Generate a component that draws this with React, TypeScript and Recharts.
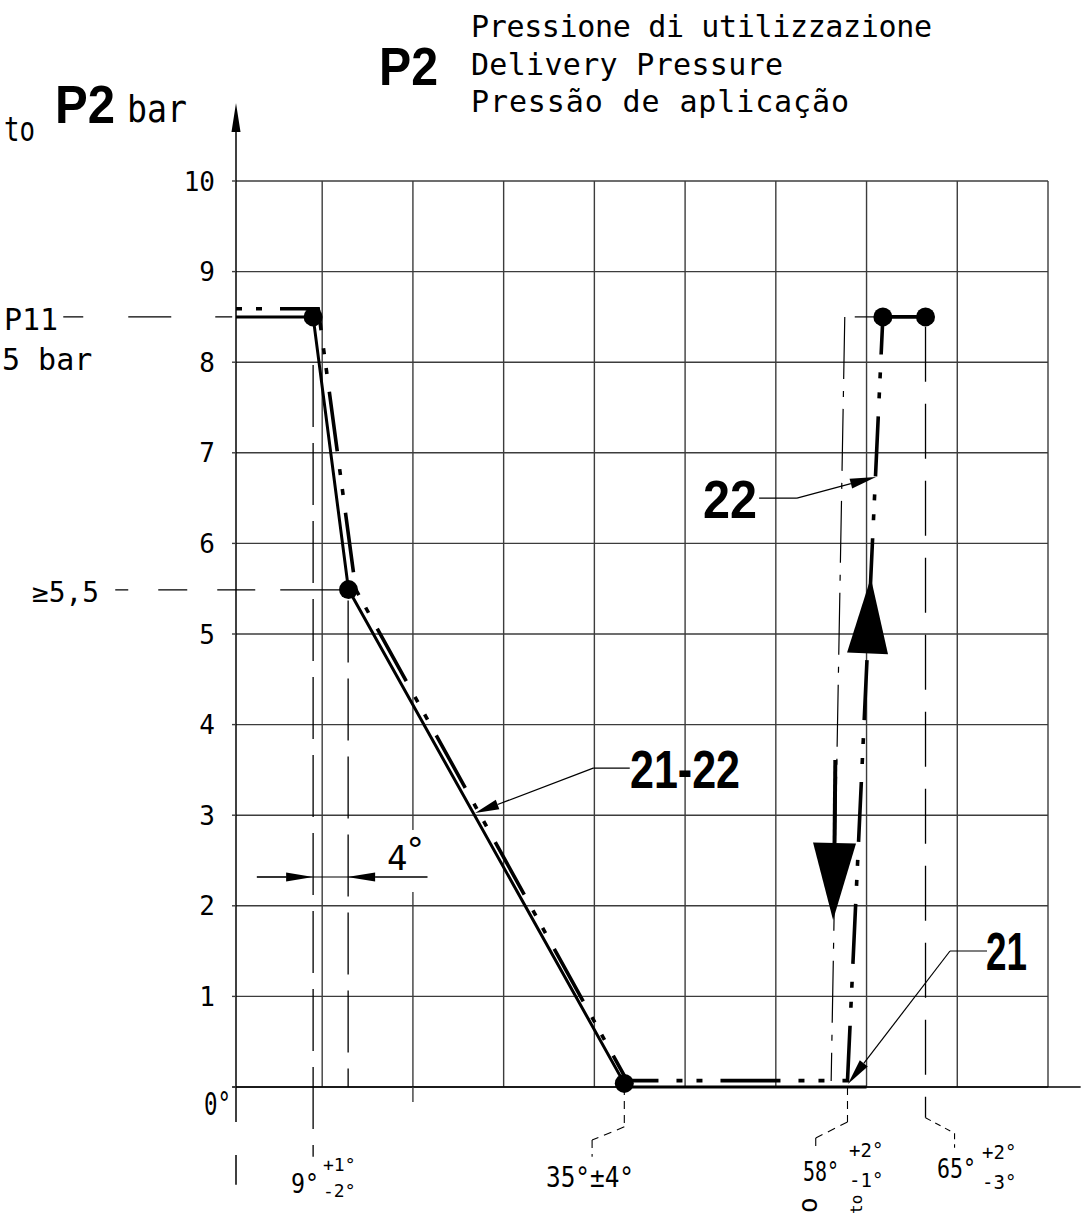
import React from 'react';
import { LineChart, Line, XAxis, YAxis, CartesianGrid, ReferenceLine } from 'recharts';

const W = 1081;
const H = 1214;
const CAD = "'DejaVu Sans Mono', monospace";
const BOLD = "'Liberation Sans', Arial, sans-serif";
const INK = '#000';
const GRID = '#3c3c3c';

// x runs in tenths of a grid column: the drawing is a schematic, not to scale in degrees
const gridCols = [10, 20, 30, 40, 50, 60, 70, 80, 90];
const pressureTicks = [0, 1, 2, 3, 4, 5, 6, 7, 8, 9, 10];

// curve 21 (solid)
const line21 = [
  { x: 0.5, y: 8.5 },
  { x: 9.0, y: 8.5, knot: true },
  { x: 12.9, y: 5.49, knot: true },
  { x: 43.3, y: 0.04, knot: true },
  { x: 44.2, y: 0 },
  { x: 70.0, y: 0 },
];

// curve 22 (dash-dot-dot)
const line22 = [
  { x: 0.5, y: 8.59 },
  { x: 9.56, y: 8.59 },
  { x: 13.7, y: 5.49 },
  { x: 43.6, y: 0.07 },
  { x: 67.9, y: 0.07 },
  { x: 71.8, y: 8.5 },
];
const line22Hold = [
  { x: 71.8, y: 8.5, knot: true },
  { x: 76.5, y: 8.5, knot: true },
];

const titleLines = ['Pressione di utilizzazione', 'Delivery Pressure', 'Pressão de aplicação'];
const angleLabels = ['9°', '35°±4°', '58°', '65°'];
const tolUp = ['+1°', '', '+2°', '+2°'];
const tolDown = ['-2°', '', '-1°', '-3°'];
const curveLabels = ['21-22', '22', '21'];

type Pt = [number, number];

const seg = (a: Pt, b: Pt) => [
  { x: a[0], y: a[1] },
  { x: b[0], y: b[1] },
];

const arrowShape = (len: number, half: number, width: number) => (p: any) => {
  const { x1, y1, x2, y2 } = p;
  const dx = x2 - x1;
  const dy = y2 - y1;
  const L = Math.hypot(dx, dy) || 1;
  const ux = dx / L;
  const uy = dy / L;
  const l = len > 0 ? len : L;
  const bx = x2 - ux * l;
  const by = y2 - uy * l;
  return (
    <g>
      {len > 0 && <line x1={x1} y1={y1} x2={bx} y2={by} stroke={INK} strokeWidth={width} />}
      <polygon
        points={`${x2},${y2} ${bx - uy * half},${by + ux * half} ${bx + uy * half},${by - ux * half}`}
        fill={INK}
      />
    </g>
  );
};

// polyline made of reference segments, optional arrow head on the last one
const path = (key: string, pts: Pt[], opts: { dash?: string; width?: number; color?: string; head?: [number, number] }) =>
  pts.slice(1).map((p, i) => {
    const last = i === pts.length - 2;
    return (
      <ReferenceLine
        key={`${key}-${i}`}
        segment={seg(pts[i], p)}
        ifOverflow="visible"
        stroke={opts.color || INK}
        strokeWidth={opts.width || 1.3}
        strokeDasharray={opts.dash}
        shape={last && opts.head ? arrowShape(opts.head[0], opts.head[1], opts.width || 1.3) : undefined}
      />
    );
  });

const knotDot = (p: any) => {
  if (!p.payload || !p.payload.knot) return <g key={`k-${p.index}`} />;
  return <circle key={`k-${p.index}`} cx={p.cx} cy={p.cy} r={9.5} fill={INK} />;
};

const PressureTick = (p: any) => {
  const { x, y, payload } = p;
  if (payload.value === 0) return <g />;
  return (
    <text x={x} y={y} dy={9.5} textAnchor="end" fontFamily={CAD} fontSize={26} fill={INK}>
      {payload.value}
    </text>
  );
};

const cad = { fontFamily: CAD, fill: INK };
const bold = { fontFamily: BOLD, fontWeight: 700, fill: INK };

const App = () => {
  return (
    <div style={{ position: 'absolute', left: 0, top: 0, width: W, height: H, background: '#fff' }}>
      <LineChart width={W} height={H} margin={{ top: 181, right: 33, bottom: 127, left: 176 }}>
        <CartesianGrid stroke={GRID} strokeWidth={1.4} vertical={false} />
        <XAxis
          type="number"
          dataKey="x"
          domain={[0.5, 90]}
          ticks={gridCols}
          height={0}
          tick={false}
          axisLine={false}
          tickLine={false}
        />
        <YAxis
          type="number"
          domain={[0, 10]}
          ticks={pressureTicks}
          width={60}
          axisLine={false}
          tickSize={4}
          tickMargin={17}
          tickLine={{ stroke: GRID, strokeWidth: 1.4 }}
          tick={<PressureTick />}
        />
        {gridCols.map((c) => (
          <ReferenceLine key={`gc-${c}`} x={c} stroke={GRID} strokeWidth={1.4} />
        ))}

        {/* axes */}
        {path('xaxis', [[0.08, 0], [93.6, 0]], { width: 1.5 })}
        {path('yaxis', [[0.5, -0.386], [0.5, 10.54]], { width: 1.5 })}
        {path('yhead', [[0.5, 10.54], [0.5, 10.86]], { width: 1.5, head: [0, 4.5] })}
        {path('ytail', [[0.5, -0.75], [0.5, -1.08]], { width: 1.5 })}
        {path('g20', [[20, 0], [20, -0.166]], { width: 1.4, color: GRID })}
        {path('gap20', [[20, 2.152], [20, 2.837]], { width: 5, color: '#fff' })}

        {/* extension lines */}
        {path('p11', [[-18.54, 8.5], [0.08, 8.5]], { dash: '20 45 43 44 40' })}
        {path('ge55', [[-12.81, 5.486], [12.2, 5.486]], { dash: '13 30 29 30 38 25 70' })}
        {path('e9', [[9.0, 7.97], [9.0, -0.77]], { dash: '62 16' })}
        {path('e13', [[12.86, 5.37], [12.86, 0]], { dash: '62 16' })}
        {path('e65', [[76.5, 8.39], [76.5, -0.34]], { dash: '55 22' })}
        {path('l65', [[76.5, -0.34], [79.7, -0.51], [79.7, -0.67]], { dash: '6 5', width: 1.1 })}
        {path('l35', [[43.3, 0], [43.3, -0.44], [39.75, -0.585], [39.75, -0.77]], { dash: '8 6', width: 1.1 })}
        {path('l58', [[67.9, 0], [67.9, -0.386], [64.4, -0.563], [64.4, -0.717]], { dash: '8 6', width: 1.1 })}
        {path('center', [[67.6, 8.5], [66.1, 0.066]], { dash: '62 12 6 12', width: 1.2 })}
        {path('top', [[68.7, 8.5], [71.8, 8.5]], { width: 1.2 })}

        {/* 4 degree dimension */}
        {path('dim', [[2.8, 2.318], [21.6, 2.318]], { width: 1.2 })}
        {path('dimL', [[2.8, 2.318], [9.0, 2.318]], { width: 1.2, head: [27, 4.5] })}
        {path('dimR', [[21.6, 2.318], [12.75, 2.318]], { width: 1.2, head: [28, 4.5] })}

        {/* leaders to the curve labels */}
        {path('ld2122', [[43.9, 3.52], [39.87, 3.52], [26.86, 3.024]], { width: 1.2, head: [24, 5] })}
        {path('ld22', [[58.16, 6.5], [62.33, 6.5], [71.04, 6.733]], { width: 1.2, head: [26, 5] })}
        {path('ld21', [[83.28, 1.501], [79.2, 1.501], [67.95, 0.033]], { width: 1.2, head: [26, 5] })}

        {/* flow direction arrows */}
        {path('up', [[70.11, 4.785], [70.47, 5.62]], { head: [0, 20.5] })}
        {path('downStem', [[66.56, 3.61], [66.47, 2.693]], { width: 4 })}
        {path('down', [[66.47, 2.693], [66.31, 1.843]], { head: [0, 21.5] })}

        <Line
          data={line22}
          dataKey="y"
          type="linear"
          stroke={INK}
          strokeWidth={3.6}
          strokeDasharray="6 14 6 18 60 18"
          dot={false}
          activeDot={false}
          isAnimationActive={false}
        />
        <Line
          data={line22Hold}
          dataKey="y"
          type="linear"
          stroke={INK}
          strokeWidth={3.6}
          dot={knotDot}
          activeDot={false}
          isAnimationActive={false}
        />
        <Line
          data={line21}
          dataKey="y"
          type="linear"
          stroke={INK}
          strokeWidth={3}
          dot={knotDot}
          activeDot={false}
          isAnimationActive={false}
        />
      </LineChart>

      <svg width={W} height={H} style={{ position: 'absolute', left: 0, top: 0, pointerEvents: 'none' }}>
        <text x={379} y={85} fontSize={54} textLength={59} lengthAdjust="spacingAndGlyphs" {...bold}>P2</text>
        {titleLines.map((t, i) => (
          <text key={t} x={471} y={37 + i * 37.5} fontSize={30} textLength={[461, 312, 378][i]} lengthAdjust="spacing" {...cad}>
            {t}
          </text>
        ))}

        <text x={4} y={141} fontSize={34} textLength={31} lengthAdjust="spacingAndGlyphs" {...cad}>to</text>
        <text x={55} y={123} fontSize={54} textLength={60} lengthAdjust="spacingAndGlyphs" {...bold}>P2</text>
        <text x={127} y={122} fontSize={38} textLength={60} lengthAdjust="spacingAndGlyphs" {...cad}>bar</text>

        <text x={4} y={330} fontSize={30} {...cad}>P11</text>
        <text x={2} y={370} fontSize={30} {...cad}>5 bar</text>
        <text x={32} y={602} fontSize={28} textLength={67} lengthAdjust="spacingAndGlyphs" {...cad}>≥5,5</text>
        <text x={231} y={1115} fontSize={32} textLength={27} lengthAdjust="spacingAndGlyphs" textAnchor="end" {...cad}>0°</text>

        <text x={387} y={870} fontSize={34} {...cad}>4</text>
        <text x={405} y={862} fontSize={34} {...cad}>°</text>

        <text x={291} y={1193} fontSize={27} textLength={28} lengthAdjust="spacingAndGlyphs" {...cad}>{angleLabels[0]}</text>
        <text x={323} y={1171} fontSize={18} {...cad}>{tolUp[0]}</text>
        <text x={323} y={1197} fontSize={18} {...cad}>{tolDown[0]}</text>

        <text x={546} y={1187} fontSize={28} textLength={88} lengthAdjust="spacingAndGlyphs" {...cad}>{angleLabels[1]}</text>

        <text x={803} y={1181} fontSize={27} textLength={36} lengthAdjust="spacingAndGlyphs" {...cad}>{angleLabels[2]}</text>
        <text x={849} y={1157} fontSize={19} {...cad}>{tolUp[2]}</text>
        <text x={849} y={1187} fontSize={19} {...cad}>{tolDown[2]}</text>

        <text x={937} y={1178} fontSize={27} textLength={39} lengthAdjust="spacingAndGlyphs" {...cad}>{angleLabels[3]}</text>
        <text x={982} y={1159} fontSize={19} {...cad}>{tolUp[3]}</text>
        <text x={982} y={1189} fontSize={19} {...cad}>{tolDown[3]}</text>

        <text transform="translate(817,1213) rotate(-90)" fontSize={26} {...cad}>o</text>
        <text transform="translate(862,1214) rotate(-90)" fontSize={16} {...cad}>to</text>

        <text x={630} y={788} fontSize={53} textLength={110} lengthAdjust="spacingAndGlyphs" {...bold}>{curveLabels[0]}</text>
        <text x={703} y={518} fontSize={53} textLength={54} lengthAdjust="spacingAndGlyphs" {...bold}>{curveLabels[1]}</text>
        <text x={986} y={970} fontSize={53} textLength={41} lengthAdjust="spacingAndGlyphs" {...bold}>{curveLabels[2]}</text>
      </svg>
    </div>
  );
};

export default App;
